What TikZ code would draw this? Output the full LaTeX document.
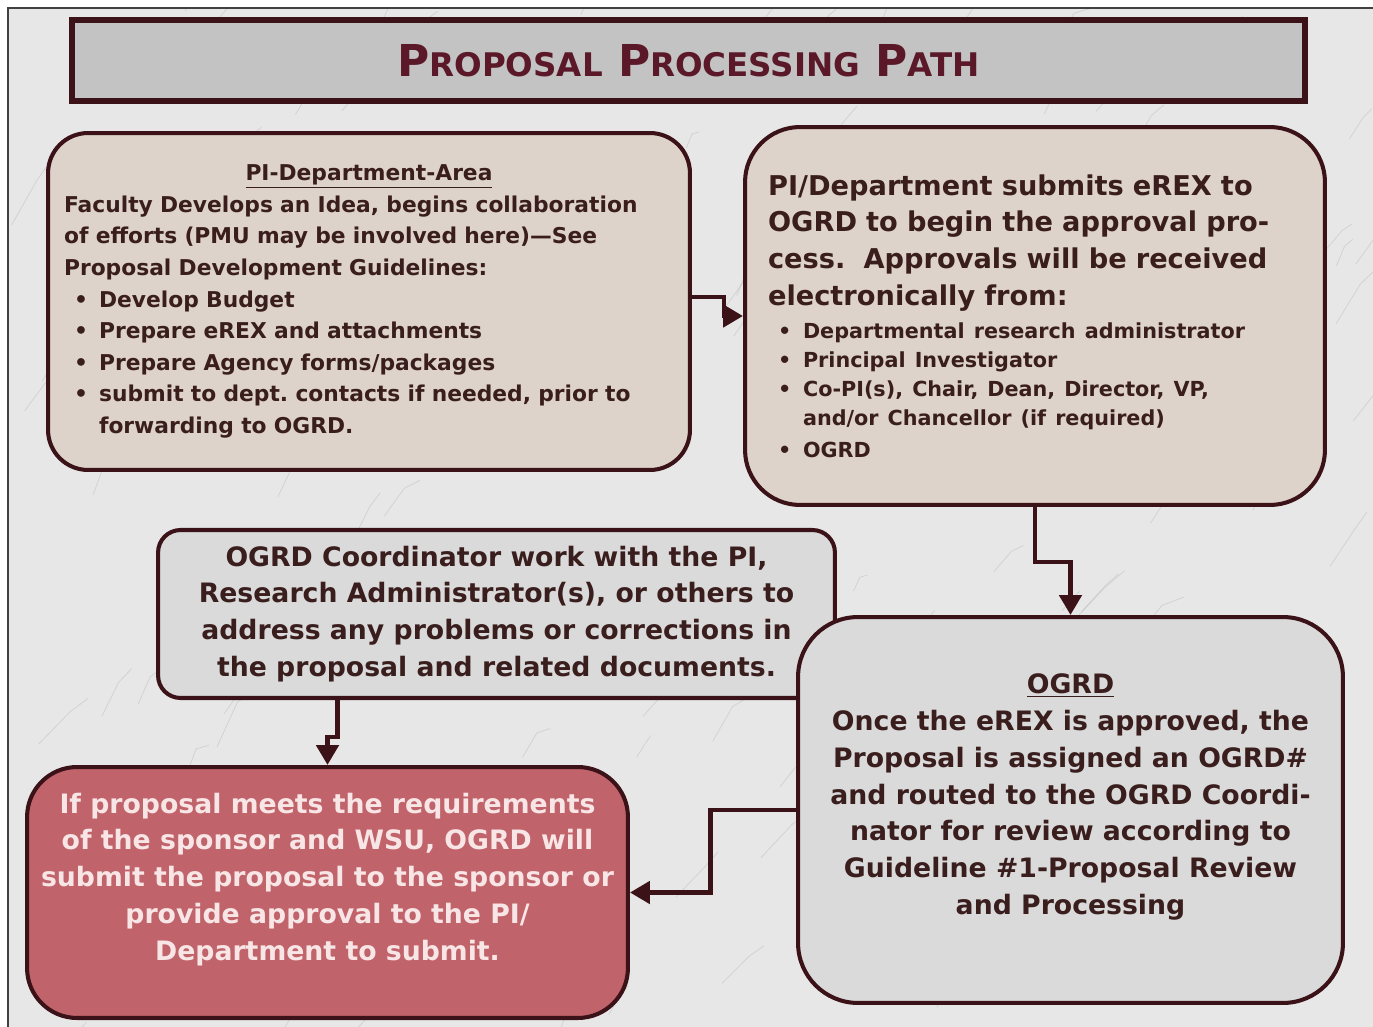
\documentclass[tikz,border=0pt]{standalone}
\usepackage{fontspec}
\setmainfont{DejaVu Sans}
\usetikzlibrary{arrows.meta,calc}
\setlength\parindent{0pt}

\definecolor{PathMaroon}{HTML}{3A1218}
\definecolor{PathTitle}{HTML}{5A1828}
\definecolor{PathInk}{HTML}{3A1E1E}
\definecolor{PathBeige}{HTML}{DDD3CA}
\definecolor{PathGrey}{HTML}{DADADA}
\definecolor{PathBar}{HTML}{C3C3C3}
\definecolor{PathRose}{HTML}{C1636A}
\definecolor{PathPale}{HTML}{F8E6E6}
\definecolor{PathMarble}{HTML}{E7E7E7}

% bullet and the indent of a wrapped bullet line
\newcommand\blt{\makebox[0.7cm][l]{\hspace{0.2cm}\textbullet}}
\newcommand\bltgap{\hspace*{0.7cm}}
% fake small caps for the heading
\newcommand\bigsc[2]{{\fontsize{25}{25}\selectfont #1}{\fontsize{18.5}{25}\selectfont #2}}

\tikzset{
  stagebox/.style={draw=PathMaroon, line width=2.3pt, rounded corners=#1,
    text=PathInk, inner sep=0pt, font=\bfseries\fontsize{15.2}{21}\selectfont},
  titlebar/.style={draw=PathMaroon, line width=3pt, fill=PathBar, text=PathTitle,
    font=\bfseries\fontsize{25}{25}\selectfont},
  flow/.style={PathMaroon, line width=2.8pt, -{Triangle[length=0.4cm,width=0.44cm]}},
  vein/.style={gray!55, line width=0.45pt, opacity=0.45}
}

\begin{document}
\begin{tikzpicture}[x=0.02cm, y=-0.02cm]
\useasboundingbox (0,0) rectangle (1373,1027);

% marble backdrop
\begin{scope}
  \clip (8,8) rectangle (1373,1027);
  \fill[PathMarble] (8,8) rectangle (1373,1027);
  \pgfmathsetseed{42}
  \foreach \v in {1,...,160}{
    \pgfmathsetmacro\vx{rnd*1400}
    \pgfmathsetmacro\vy{rnd*1060}
    \pgfmathsetmacro\vl{15+rnd*45}
    \pgfmathsetmacro\va{-45-rnd*25}
    \pgfmathsetmacro\vb{-60+rnd*45}
    \draw[vein] (\vx,\vy) -- ++(\va:\vl) -- ++(\vb:\vl/2);
  }
\end{scope}
\draw[line width=1.2pt, black!75] (8,1027) -- (8,8) -- (1373,8);

\node[titlebar, minimum width=24.66cm, minimum height=1.62cm] (title) at (688.5,60.5)
  {\bigsc{P}{ROPOSAL} \bigsc{P}{ROCESSING} \bigsc{P}{ATH}};

% the five stages
\node[stagebox=0.8cm, fill=PathBeige, minimum width=12.84cm, minimum height=6.74cm,
  text width=12.2cm, inner xsep=0.32cm, align=left,
  font=\bfseries\fontsize{12.4}{18}\selectfont] (pi) at (369,301.5) {%
  \makebox[\hsize]{\underline{PI-Department-Area}}\\
  Faculty Develops an Idea, begins collaboration\\
  of efforts (PMU may be involved here)—See\\
  Proposal Development Guidelines:\\
  \blt Develop Budget\\
  \blt Prepare eREX and attachments\\
  \blt Prepare Agency forms/packages\\
  \blt submit to dept.\ contacts if needed, prior to\\
  \bltgap forwarding to OGRD.};

\node[stagebox=1.1cm, fill=PathBeige, minimum width=11.6cm, minimum height=7.56cm,
  text width=10.68cm, inner xsep=0.46cm, align=left,
  font=\bfseries\fontsize{15.5}{21}\selectfont] (erex) at (1035,316) {%
  PI/Department submits eREX to\\
  OGRD to begin the approval pro-\\
  cess.\ \ Approvals will be received\\
  electronically from:\par
  {\fontsize{11.8}{16.5}\selectfont\vspace{2.3pt}
  \blt Departmental research administrator\\
  \blt Principal Investigator\\
  \blt Co-PI(s), Chair, Dean, Director, VP,\\
  \bltgap and/or Chancellor (if required)\\[1.5pt]
  \blt OGRD\par}};

\node[stagebox=0.45cm, fill=PathGrey, minimum width=13.54cm, minimum height=3.36cm,
  align=center] (coord) at (496.5,614) {%
  OGRD Coordinator work with the PI,\\
  Research Administrator(s), or others to\\
  address any problems or corrections in\\
  the proposal and related documents.};

\node[stagebox=1.2cm, fill=PathGrey, minimum width=10.9cm, minimum height=7.72cm]
  (ogrd) at (1070.5,810) {};
\node[stagebox=0pt, draw=none, align=center] (ogrdtext) at ([yshift=0.26cm]ogrd.center) {%
  \underline{OGRD}\\
  Once the eREX is approved, the\\
  Proposal is assigned an OGRD\#\\
  and routed to the OGRD Coordi-\\
  nator for review according to\\
  Guideline \#1-Proposal Review\\
  and Processing};

\node[stagebox=1cm, fill=PathRose, minimum width=12.02cm, minimum height=5.02cm]
  (sub) at (327.5,892.5) {};
\node[stagebox=0pt, draw=none, text=PathPale, align=center] (subtext)
  at ([yshift=0.26cm]sub.center) {%
  If proposal meets the requirements\\
  of the sponsor and WSU, OGRD will\\
  submit the proposal to the sponsor or\\
  provide approval to the PI/\\
  Department to submit.};

% connectors
\draw[flow] ([yshift=0.09cm]pi.east) -- ++(32,0) |- (erex.west);
\draw[flow] (erex.south) -- ++(0,55) -| (ogrd.north);
\draw[flow] ($(coord.south -| sub.north)+(10,0)$) -- ++(0,37) -| (sub.north);
\draw[flow] (ogrd.west) -- ++(-86,0) |- (sub.east);
\end{tikzpicture}
\end{document}
